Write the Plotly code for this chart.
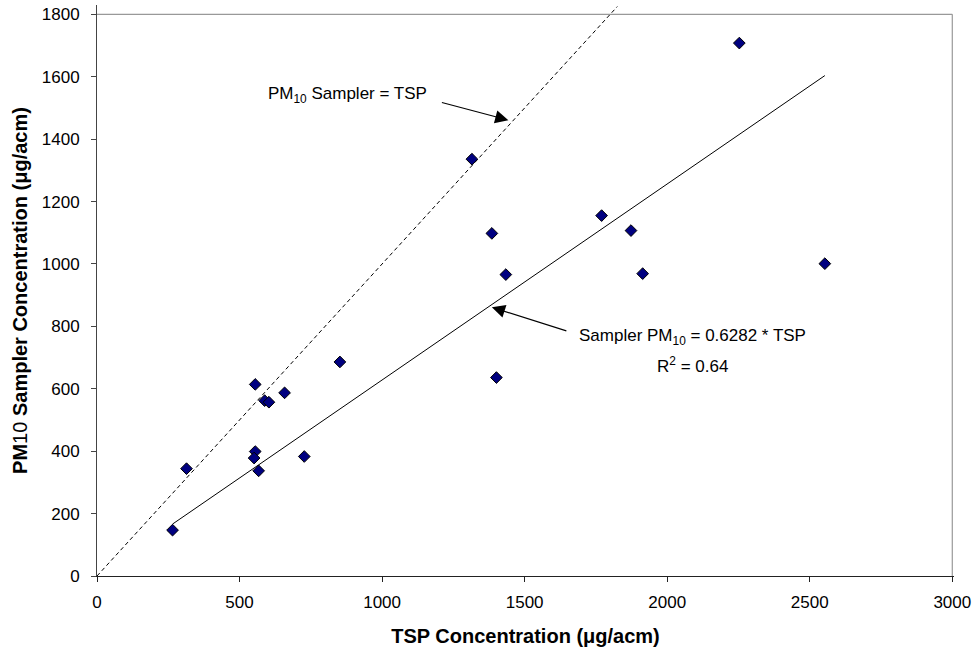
import plotly.graph_objects as go

# Data
tsp = [265, 314, 555, 588, 603, 658, 555, 551, 567, 852, 727, 1401,
       1315, 1385, 1434, 1770, 1873, 1914, 2253, 2553]
pm10 = [147, 344, 614, 562, 557, 587, 399, 378, 337, 686, 383, 636,
        1336, 1098, 966, 1155, 1107, 969, 1708, 1001]

slope = 0.6282
one_to_one_end = 1825

x_ticks = [0, 500, 1000, 1500, 2000, 2500, 3000]
y_ticks = [0, 200, 400, 600, 800, 1000, 1200, 1400, 1600, 1800]

FONT = "Liberation Sans, Arial, sans-serif"

fig = go.Figure()

# 1:1 dashed line
fig.add_trace(go.Scatter(
    x=[0, one_to_one_end], y=[0, one_to_one_end], mode="lines",
    line=dict(color="black", width=1, dash="4px,3px"), hoverinfo="skip",
    showlegend=False))

# regression line
xmin, xmax = min(tsp), max(tsp)
fig.add_trace(go.Scatter(
    x=[xmin, xmax], y=[slope * xmin, slope * xmax], mode="lines",
    line=dict(color="black", width=1), hoverinfo="skip", showlegend=False))

# data points
fig.add_trace(go.Scatter(
    x=tsp, y=pm10, mode="markers",
    marker=dict(symbol="diamond", size=9, color="#000080",
                line=dict(color="black", width=1)),
    showlegend=False))

# right and top border
fig.add_shape(type="line", x0=0, x1=3000, y0=1800, y1=1800, xref="x", yref="y",
              line=dict(color="#999999", width=1.2))
fig.add_shape(type="line", x0=3000, x1=3000, y0=0, y1=1800, xref="x", yref="y",
              line=dict(color="#999999", width=1.2))

# arrows
fig.add_annotation(x=1443, y=1461, xref="x", yref="y", text="", showarrow=True,
                   ax=-68, ay=-18, arrowhead=2, arrowsize=2.4, arrowwidth=1.1,
                   arrowcolor="black")
fig.add_annotation(x=1385, y=861, xref="x", yref="y", text="", showarrow=True,
                   ax=76, ay=24, arrowhead=2, arrowsize=2.4, arrowwidth=1.1,
                   arrowcolor="black")

# labels
fig.add_annotation(x=877, y=1541, xref="x", yref="y", showarrow=False,
                   text="PM<sub>10</sub> Sampler = TSP",
                   font=dict(family=FONT, size=17, color="black"))
fig.add_annotation(x=2087, y=765, xref="x", yref="y", showarrow=False,
                   text="Sampler PM<sub>10</sub> = 0.6282 * TSP",
                   font=dict(family=FONT, size=17, color="black"))
fig.add_annotation(x=2087, y=677, xref="x", yref="y", showarrow=False,
                   text="R<sup>2</sup> = 0.64",
                   font=dict(family=FONT, size=17, color="black"))

fig.update_layout(
    width=976, height=651,
    margin=dict(l=97, r=22, t=5, b=75),
    plot_bgcolor="white", paper_bgcolor="white",
    font=dict(family=FONT, size=17, color="black"),
    xaxis=dict(
        range=[0, 3006], tickvals=x_ticks, ticktext=[str(v) for v in x_ticks],
        automargin=False, ticklabeloverflow="allow",
        showgrid=False, zeroline=False, showline=True, linecolor="#222222",
        linewidth=1, ticks="outside", ticklen=5, tickcolor="#222222",
        ticklabelstandoff=6,
        title=dict(text="<b>TSP Concentration (μg/acm)</b>",
                   font=dict(family=FONT, size=20), standoff=17)),
    yaxis=dict(
        range=[0, 1830], tickvals=y_ticks, ticktext=[str(v) for v in y_ticks],
        automargin=False, ticklabeloverflow="allow",
        showgrid=False, zeroline=False, showline=True, linecolor="#444444",
        linewidth=1, ticks="outside", ticklen=5, tickcolor="#444444",
        ticklabelstandoff=8,
        title=dict(text="<b>PM</b>10<b> Sampler Concentration (μg/acm)</b>",
                   font=dict(family=FONT, size=20), standoff=8)),
)

fig.write_html("out.html",
               config={"displayModeBar": False},
               post_script="document.body.style.margin='0px';")
